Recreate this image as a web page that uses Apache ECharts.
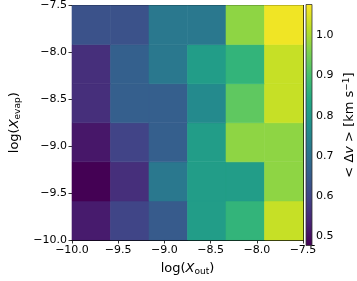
<!DOCTYPE html>
<html>
<head>
<meta charset="utf-8">
<script src="https://cdn.jsdelivr.net/npm/echarts@6/dist/echarts.min.js"></script>
<style>html,body{margin:0;padding:0;background:#fff;}#c{width:357px;height:281px;}</style>
</head>
<body>
<div id="c"></div>
<script>
// ---- data ----
const xRange = [-10, -7.5];
const yRange = [-10, -7.5];
const nBinsX = 6;
const nBinsY = 6;
// rows from bottom (log X_evap = -10) to top (-7.5); columns from log X_out = -10 to -7.5
const row0 = [0.522, 0.600, 0.648, 0.807, 0.867, 1.025];
const row1 = [0.477, 0.558, 0.717, 0.807, 0.807, 0.975];
const row2 = [0.515, 0.597, 0.657, 0.807, 0.975, 0.975];
const row3 = [0.558, 0.657, 0.657, 0.760, 0.927, 1.025];
const row4 = [0.558, 0.660, 0.717, 0.807, 0.867, 1.025];
const row5 = [0.627, 0.627, 0.717, 0.717, 0.975, 1.065];
const rows = [row0, row1, row2, row3, row4, row5];
const cbRange = [0.477, 1.077];
const cbTicks = [0.5, 0.6, 0.7, 0.8, 0.9, 1.0];
const viridis = ['#440154','#482475','#414487','#355f8d','#2a788e','#21918c','#22a884','#44bf70','#7ad151','#bddf26','#fde725'];

const dx = (xRange[1] - xRange[0]) / nBinsX;
const dy = (yRange[1] - yRange[0]) / nBinsY;
const cells = [];
rows.forEach((r, j) => r.forEach((v, i) => {
  cells.push([xRange[0] + (i + 0.5) * dx, yRange[0] + (j + 0.5) * dy, v]);
}));

const FONT = 'DejaVu Sans';
const fmt = v => v.toFixed(1).replace('-', '\u2212');
const chart = echarts.init(document.getElementById('c'), null, {renderer: 'canvas'});

const axLine = {show: true, lineStyle: {color: '#000', width: 1}};
const tick = {show: true, length: 3.5, inside: false, lineStyle: {color: '#000', width: 0.8}};
const TS = 13, SS = 9;
const richSub = {
  n: {fontFamily: FONT, fontSize: TS, color: '#000'},
  i: {fontFamily: FONT, fontSize: TS, fontStyle: 'italic', color: '#000'},
  s: {fontFamily: FONT, fontSize: SS, color: '#000', verticalAlign: 'bottom', padding: [6, 0, 0, 0]}
};

chart.setOption({
  animation: false,
  backgroundColor: '#fff',
  grid: [
    {left: 62, top: 4.5, width: 241, height: 241, containLabel: false},
    {left: 306, top: 4.5, width: 12, height: 241, containLabel: false}
  ],
  xAxis: [
    {gridIndex: 0, type: 'value', min: xRange[0], max: xRange[1], interval: 0.5, position: 'bottom',
     axisLine: axLine, axisTick: tick, splitLine: {show: false},
     axisLabel: {formatter: fmt, fontFamily: FONT, fontSize: 11, color: '#000', margin: 5},
     name: '{n|log(}{i|X}{s|out}{n|)}', nameLocation: 'middle', nameGap: 21,
     nameTextStyle: {rich: richSub}},
    {gridIndex: 0, type: 'value', min: xRange[0], max: xRange[1], position: 'top',
     axisLine: axLine, axisTick: {show: false}, axisLabel: {show: false}, splitLine: {show: false}},
    {gridIndex: 1, type: 'value', min: 0, max: 1, show: false}
  ],
  yAxis: [
    {gridIndex: 0, type: 'value', min: yRange[0], max: yRange[1], interval: 0.5, position: 'left',
     axisLine: axLine, axisTick: tick, splitLine: {show: false},
     axisLabel: {formatter: fmt, fontFamily: FONT, fontSize: 11, color: '#000', margin: 5},
     name: '{n|log(}{i|X}{s|evap}{n|)}', nameLocation: 'middle', nameGap: 50, nameRotate: 90,
     nameTextStyle: {rich: richSub}},
    {gridIndex: 0, type: 'value', min: yRange[0], max: yRange[1], position: 'right',
     axisLine: axLine, axisTick: {show: false}, axisLabel: {show: false}, splitLine: {show: false}},
    {gridIndex: 1, type: 'value', min: cbRange[0], max: cbRange[1], position: 'right',
     axisLine: {show: false}, splitLine: {show: false},
     axisTick: {show: true, length: 3.5, customValues: cbTicks, lineStyle: {color: '#000', width: 0.8}},
     axisLabel: {customValues: cbTicks, formatter: v => v.toFixed(1), fontFamily: FONT, fontSize: 11, color: '#000', margin: 4},
     name: '{n|< }{d|\u0394}{i|v}{n| > [km s}{s|\u22121}{n|]}', nameLocation: 'middle', nameGap: 30, nameRotate: 90,
     nameTextStyle: {rich: {n: {fontFamily: FONT, fontSize: TS, color: '#000'},
                            d: {fontFamily: FONT, fontSize: TS, color: '#000'},
                            i: {fontFamily: FONT, fontSize: TS, fontStyle: 'italic', color: '#000'},
                            s: {fontFamily: FONT, fontSize: SS, color: '#000', verticalAlign: 'top', padding: [0, 0, 6, 0]}}}}
  ],
  visualMap: {
    type: 'continuous', show: false, seriesIndex: 0, dimension: 2,
    min: cbRange[0], max: cbRange[1], inRange: {color: viridis}
  },
  series: [
    {
      type: 'custom', xAxisIndex: 0, yAxisIndex: 0,
      encode: {x: 0, y: 1},
      data: cells,
      renderItem: function (params, api) {
        const cx = api.value(0), cy = api.value(1);
        const p0 = api.coord([cx - dx / 2, cy + dy / 2]);
        const p1 = api.coord([cx + dx / 2, cy - dy / 2]);
        const col = api.visual('color');
        return {type: 'rect', shape: {x: p0[0], y: p0[1], width: p1[0] - p0[0], height: p1[1] - p0[1]},
                style: {fill: col, stroke: col, lineWidth: 0.6}};
      },
      z: 1
    },
    {
      type: 'custom', xAxisIndex: 2, yAxisIndex: 2,
      data: [[0.5, (cbRange[0] + cbRange[1]) / 2]],
      renderItem: function (params, api) {
        const p0 = api.coord([0, cbRange[1]]);
        const p1 = api.coord([1, cbRange[0]]);
        const stops = viridis.map((c, k) => ({offset: k / (viridis.length - 1), color: c}));
        return {type: 'rect', shape: {x: p0[0], y: p0[1], width: p1[0] - p0[0], height: p1[1] - p0[1]},
                style: {fill: new echarts.graphic.LinearGradient(0, 1, 0, 0, stops), stroke: '#333', lineWidth: 0.8}};
      }
    }
  ]
});
</script>
</body>
</html>
